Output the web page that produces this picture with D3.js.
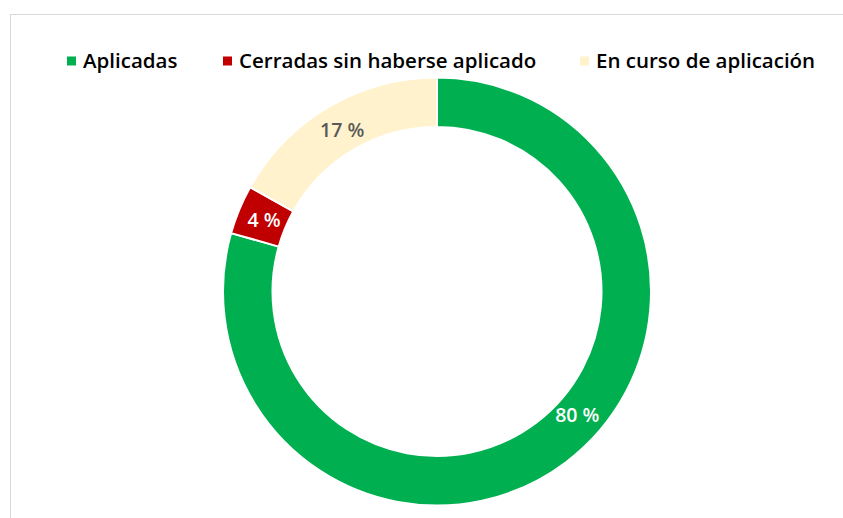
<!DOCTYPE html>
<html>
<head>
<meta charset="utf-8">
<script src="https://cdn.jsdelivr.net/npm/d3@7"></script>
<style>
  body { margin: 0; background: #fff; }
  svg { display: block; font-family: "Open Sans", sans-serif; }
</style>
</head>
<body>
<svg id="vis" width="843" height="518"></svg>
<script>
var categories = ["Aplicadas", "Cerradas sin haberse aplicado", "En curso de aplicación"];
var shares = [79.4, 3.7, 16.9];
var labels = ["80 %", "4 %", "17 %"];
var colors = ["#00b050", "#c00000", "#fff2cc"];
var labelColors = ["#ffffff", "#ffffff", "#595959"];
// where along each slice its label sits (0 = start, 1 = end)
var labelAlong = [0.46, 0.5, 0.5];

var svg = d3.select("#vis");

// chart frame
svg.append("rect")
  .attr("x", 10.5).attr("y", 14.5)
  .attr("width", 850).attr("height", 520)
  .attr("fill", "none").attr("stroke", "#d9d9d9").attr("stroke-width", 1);

var cx = 437, cy = 291.5, outerR = 214, innerR = 164.5;

var pie = d3.pie().sort(null).value(function(d) { return d; });
var arcs = pie(shares);

var arc = d3.arc().innerRadius(innerR).outerRadius(outerR);

var g = svg.append("g").attr("transform", "translate(" + cx + "," + cy + ")");

g.selectAll(".slice")
  .data(arcs)
  .enter().append("path")
  .attr("class", "slice")
  .attr("d", arc)
  .attr("fill", function(d, i) { return colors[i]; })
  .attr("stroke", "#fff")
  .attr("stroke-width", 2);

var midR = (innerR + outerR) / 2 - 2;
g.selectAll(".lbl")
  .data(arcs)
  .enter().append("text")
  .attr("class", "lbl")
  .attr("x", function(d, i) {
    var a = d.startAngle + (d.endAngle - d.startAngle) * labelAlong[i];
    return Math.sin(a) * midR;
  })
  .attr("y", function(d, i) {
    var a = d.startAngle + (d.endAngle - d.startAngle) * labelAlong[i];
    return -Math.cos(a) * midR;
  })
  .attr("dy", "0.35em")
  .attr("text-anchor", "middle")
  .attr("font-size", 19.5)
  .attr("font-weight", 600)
  .attr("fill", function(d, i) { return labelColors[i]; })
  .text(function(d, i) { return labels[i]; });

// legend
var legendX = [67, 223, 580];
var legend = svg.selectAll(".leg")
  .data(categories)
  .enter().append("g")
  .attr("class", "leg")
  .attr("transform", function(d, i) { return "translate(" + legendX[i] + ",61)"; });

legend.append("rect")
  .attr("x", 0).attr("y", -4.5)
  .attr("width", 9).attr("height", 9)
  .attr("fill", function(d, i) { return colors[i]; });

legend.append("text")
  .attr("x", 16)
  .attr("dy", "0.35em")
  .attr("font-size", 20.5)
  .attr("font-weight", 600)
  .attr("fill", "#000")
  .text(function(d) { return d; });
</script>
</body>
</html>
